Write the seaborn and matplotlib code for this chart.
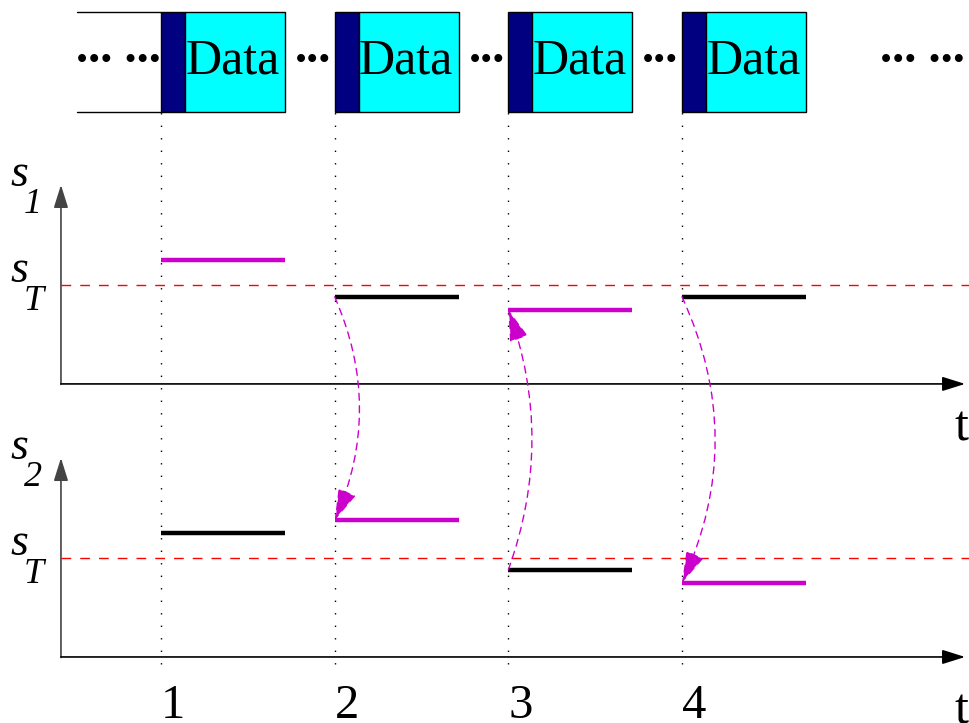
import matplotlib
matplotlib.use("Agg")
import matplotlib.pyplot as plt
from matplotlib.patches import Rectangle
import seaborn as sns

sns.set_theme(style="white")
plt.rcParams["font.family"] = ["Liberation Serif", "DejaVu Serif"]
plt.rcParams["text.color"] = "black"

# -------------------------------
# Data
# -------------------------------
slots = [1, 2, 3, 4]
slot_labels = ["1", "2", "3", "4"]
s1_level = [1.25, 0.88, 0.75, 0.88]
s2_level = [1.25, 1.38, 0.88, 0.75]
s_threshold = 1.0
scheduled = [1, 2, 1, 2]          # user drawn in magenta per slot
arrow_bend = [0.22, 0.18, 0.23]   # curvature of the switch arrows (slots 2-4)
user_names = ["1", "2"]
packet_text = "Data"

# -------------------------------
# Layout (data units: 1 slot along x, 1 = s_T along y)
# -------------------------------
SLOT_LEN = 0.714
HEADER_LEN = 0.138
PANEL_BASE = {1: 2.758, 2: 0.0}
AXIS_X0, AXIS_X1, AXIS_TOP = 0.424, 5.63, 2.01
XLIM, YLIM = (0.073, 5.6525), (-0.667, 6.636)
PKT_Y0, PKT_Y1 = 5.505, 6.515
MAGENTA = "#cc00cc"

fig = plt.figure(figsize=(9.69, 7.23), dpi=100)
ax = fig.add_axes([0, 0, 1, 1])
ax.set_xlim(*XLIM)
ax.set_ylim(*YLIM)
ax.axis("off")

# slot markers
ax.vlines(slots, -0.07, PKT_Y0, colors="black", linestyles=(0, (1, 8)), lw=1)

# top strip: packets
for y in (PKT_Y0, PKT_Y1):
    ax.plot([0.516, slots[0]], [y, y], color="black", lw=1)
dots = dict(va="baseline", fontsize=35, fontweight="bold")
ax.text(0.51, 6.01, "... ...", ha="left", **dots)
for t in slots:
    ax.add_patch(Rectangle((t, PKT_Y0), HEADER_LEN, PKT_Y1 - PKT_Y0,
                           fc="#000080", ec="black", lw=1))
    ax.add_patch(Rectangle((t + HEADER_LEN, PKT_Y0), SLOT_LEN - HEADER_LEN,
                           PKT_Y1 - PKT_Y0, fc="cyan", ec="black", lw=1))
    ax.text(t + HEADER_LEN + (SLOT_LEN - HEADER_LEN) / 2 - 0.015, 5.889,
            packet_text, ha="center", va="baseline", fontsize=36)
for t in slots[:-1]:
    ax.text(t + 0.875, 6.01, "...", ha="center", **dots)
ax.text(5.14, 6.01, "... ...", ha="left", **dots)

# panels
levels = {1: s1_level, 2: s2_level}
t_label_drop = {1: -0.21, 2: -0.31}
head = "-|>,head_length=0.7,head_width=0.22"
for user, name in zip((1, 2), user_names):
    base = PANEL_BASE[user]
    ax.annotate("", xy=(AXIS_X0, base + AXIS_TOP), xytext=(AXIS_X0, base - 0.005),
                arrowprops=dict(arrowstyle=head, color="#444444", lw=1.2,
                                shrinkA=0, shrinkB=0, mutation_scale=20))
    ax.annotate("", xy=(AXIS_X1, base), xytext=(AXIS_X0, base),
                arrowprops=dict(arrowstyle=head, color="black", lw=1.2,
                                shrinkA=0, shrinkB=0, mutation_scale=20))
    ax.plot([AXIS_X0, XLIM[1]], [base + s_threshold] * 2, color="red",
            lw=1, dashes=(7, 6.5))
    for t, lv, who in zip(slots, levels[user], scheduled):
        ax.hlines(base + lv, t, t + SLOT_LEN, lw=3.2,
                  colors=MAGENTA if who == user else "black")
    # axis labels
    ax.text(0.135, base + 2.0, "s", style="italic", fontsize=33, va="baseline")
    ax.text(0.21, base + 1.73, name, style="italic", fontsize=26, va="baseline")
    ax.text(0.135, base + s_threshold + 0.03, "s", style="italic", fontsize=33,
            va="baseline")
    ax.text(0.21, base + s_threshold - 0.25, "T", style="italic", fontsize=26,
            va="baseline")
    ax.text(5.647, base + t_label_drop[user], "t", ha="right", va="top", fontsize=36)

# scheduling switch arrows
k = 0
for i in range(1, len(slots)):
    src, dst = scheduled[i - 1], scheduled[i]
    if src == dst:
        continue
    y0 = PANEL_BASE[src] + levels[src][i]
    y1 = PANEL_BASE[dst] + levels[dst][i]
    rad = -arrow_bend[k] if y1 < y0 else arrow_bend[k]
    k += 1
    ax.annotate("", xy=(slots[i], y1), xytext=(slots[i], y0),
                arrowprops=dict(arrowstyle="-|>,head_length=1.0,head_width=0.3",
                                color=MAGENTA, lw=1, linestyle=(0, (5, 4)),
                                connectionstyle=f"arc3,rad={rad}",
                                shrinkA=0, shrinkB=0, mutation_scale=20))

# slot numbers
for t, lab in zip(slots, slot_labels):
    ax.text(t + 0.07, -0.27, lab, ha="center", va="top", fontsize=35)

fig.savefig("out.png", dpi=100)
plt.close(fig)
